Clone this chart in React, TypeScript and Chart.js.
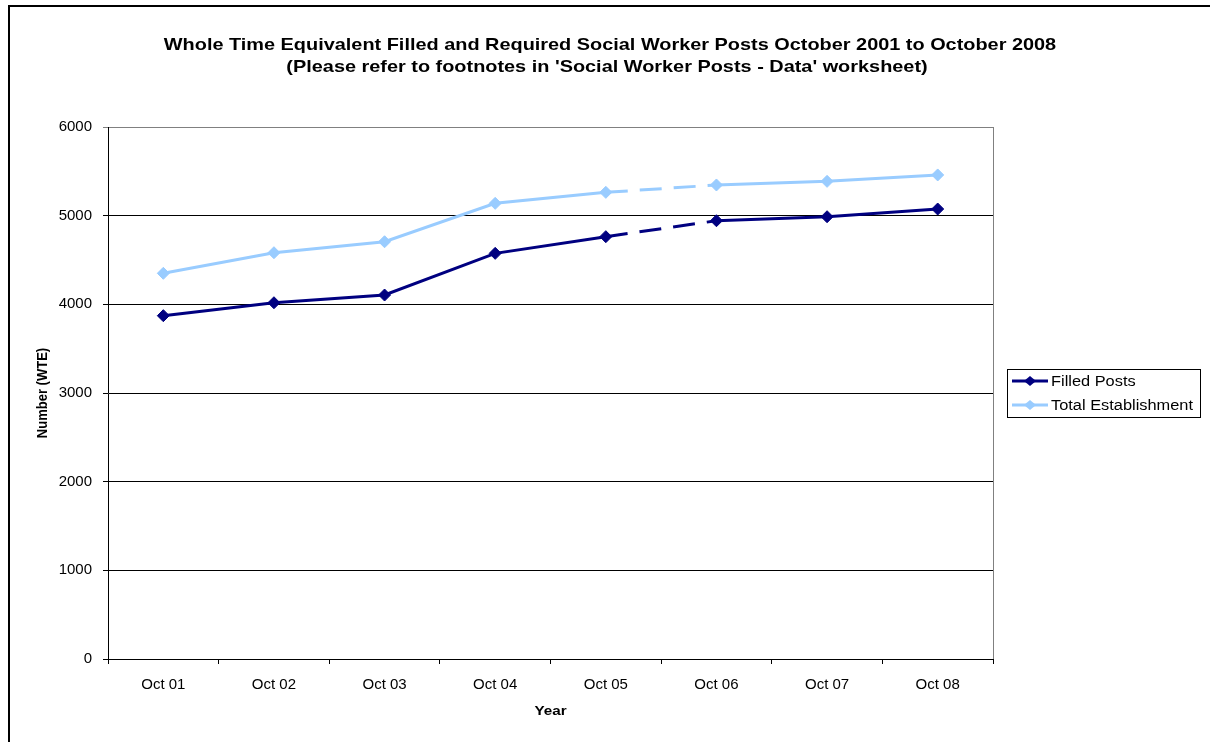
import React, { useEffect, useRef } from "react";
import { Chart, registerables } from "chart.js";

Chart.register(...registerables);

const categories = ["Oct 01", "Oct 02", "Oct 03", "Oct 04", "Oct 05", "Oct 06", "Oct 07", "Oct 08"];
const filledPosts = [3872, 4018, 4105, 4575, 4763, 4943, 4988, 5075];
const totalEstablishment = [4350, 4582, 4706, 5139, 5263, 5346, 5387, 5459];
const seriesNames = ["Filled Posts", "Total Establishment"];
const seriesColors = ["#000080", "#99CCFF"];
const dashedFromIndex = 4; // segment Oct 05 -> Oct 06 is dashed
const titleLines = [
  "Whole Time Equivalent Filled and Required Social Worker Posts October 2001 to October 2008",
  "(Please refer to footnotes in 'Social Worker Posts - Data' worksheet)",
];
const xAxisTitle = "Year";
const yAxisTitle = "Number (WTE)";
const yMin = 0;
const yMax = 6000;
const yStep = 1000;

const FONT = "'Liberation Sans', Arial, sans-serif";
const SX = 1.17; // horizontal stretch of the reference's text

function stretchText(ctx: any, text: string, x: number, y: number, align: string) {
  ctx.save();
  ctx.translate(x, y);
  ctx.scale(SX, 1);
  ctx.textAlign = align;
  ctx.fillText(text, 0, 0);
  ctx.restore();
}

const decorPlugin = {
  id: "decor",
  beforeDraw(chart: any) {
    const ctx = chart.ctx;
    ctx.save();
    ctx.fillStyle = "#ffffff";
    ctx.fillRect(0, 0, chart.width, chart.height);
    ctx.fillStyle = "#000000";
    ctx.fillRect(8, 5, 2, chart.height - 5);
    ctx.fillRect(8, 5, chart.width - 8, 2);
    ctx.restore();
  },
  afterDraw(chart: any) {
    const ctx = chart.ctx;
    const a = chart.chartArea;
    ctx.save();
    // right border of plot area
    ctx.strokeStyle = "#808080";
    ctx.lineWidth = 1;
    ctx.beginPath();
    ctx.moveTo(Math.round(a.right) + 0.5, a.top);
    ctx.lineTo(Math.round(a.right) + 0.5, a.bottom);
    ctx.stroke();

    // title
    ctx.fillStyle = "#000000";
    ctx.textBaseline = "middle";
    ctx.font = `bold 17px ${FONT}`;
    stretchText(ctx, titleLines[0], 610, 45, "center");
    stretchText(ctx, titleLines[1], 607, 67, "center");

    // axis titles
    ctx.font = `bold 13px ${FONT}`;
    stretchText(ctx, xAxisTitle, (a.left + a.right) / 2, 711, "center");
    ctx.save();
    ctx.translate(43, (a.top + a.bottom) / 2);
    ctx.scale(SX, 1);
    ctx.rotate(-Math.PI / 2);
    ctx.textAlign = "center";
    ctx.fillText(yAxisTitle, 0, 0);
    ctx.restore();

    // legend
    const bx = 1007, by = 369, bw = 193, bh = 48;
    ctx.strokeStyle = "#000000";
    ctx.lineWidth = 1;
    ctx.strokeRect(bx + 0.5, by + 0.5, bw, bh);
    const rows = [381, 405];
    ctx.font = `14px ${FONT}`;
    seriesNames.forEach((name, i) => {
      const y = rows[i];
      ctx.strokeStyle = seriesColors[i];
      ctx.fillStyle = seriesColors[i];
      ctx.lineWidth = 3;
      ctx.beginPath();
      ctx.moveTo(1012, y);
      ctx.lineTo(1048, y);
      ctx.stroke();
      const rx = 6, ry = 5;
      ctx.beginPath();
      ctx.moveTo(1030 - rx, y);
      ctx.lineTo(1030, y - ry);
      ctx.lineTo(1030 + rx, y);
      ctx.lineTo(1030, y + ry);
      ctx.closePath();
      ctx.fill();
      ctx.fillStyle = "#000000";
      stretchText(ctx, name, 1051, y + 1, "left");
    });
    ctx.restore();
  },
};

export default function App() {
  const canvasRef = useRef<HTMLCanvasElement | null>(null);

  useEffect(() => {
    const canvas = canvasRef.current;
    if (!canvas) return;
    const dash = (ctx: any) => (ctx.p0DataIndex === dashedFromIndex ? [22, 12] : undefined);
    const mkDataset = (i: number, data: number[]) => ({
      label: seriesNames[i],
      data,
      borderColor: seriesColors[i],
      backgroundColor: seriesColors[i],
      borderWidth: 3,
      pointStyle: "rectRot",
      pointRadius: 6,
      pointBorderWidth: 1,
      pointBackgroundColor: seriesColors[i],
      pointBorderColor: seriesColors[i],
      tension: 0,
      fill: false,
      segment: { borderDash: dash },
    });
    const chart = new Chart(canvas, {
      type: "line",
      data: {
        labels: categories,
        datasets: [mkDataset(0, filledPosts), mkDataset(1, totalEstablishment)],
      },
      options: {
        responsive: false,
        animation: false,
        devicePixelRatio: 1,
        layout: { padding: { top: 127, right: 217, left: 0, bottom: 0 } },
        plugins: {
          legend: { display: false },
          title: { display: false },
          tooltip: { enabled: false },
        },
        scales: {
          x: {
            offset: true,
            grid: {
              offset: true,
              drawOnChartArea: false,
              drawTicks: true,
              tickLength: 5,
              color: "#000000",
            },
            border: { color: "#000000", width: 1 },
            ticks: { font: { family: FONT, size: 15 }, color: "#000000", padding: 12, maxRotation: 0 },
            afterFit: (s: any) => {
              s.height = 83;
            },
          },
          y: {
            min: yMin,
            max: yMax,
            ticks: {
              stepSize: yStep,
              font: { family: FONT, size: 15 },
              color: "#000000",
              padding: 11,
              callback: (v: any) => String(v),
            },
            grid: {
              color: (c: any) => (c.tick && c.tick.value === yMax ? "#808080" : "#000000"),
              tickLength: 5,
            },
            border: { color: "#000000", width: 1 },
            afterFit: (s: any) => {
              s.width = 108;
            },
          },
        },
      } as any,
      plugins: [decorPlugin],
    });
    return () => chart.destroy();
  }, []);

  return (
    <div style={{ position: "fixed", left: 0, top: 0, width: 1210, height: 742, background: "#fff" }}>
      <canvas ref={canvasRef} width={1210} height={742} style={{ display: "block", width: 1210, height: 742 }} />
    </div>
  );
}
